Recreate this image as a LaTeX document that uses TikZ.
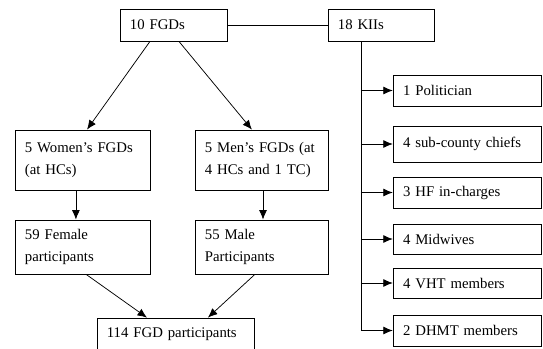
\documentclass[tikz,border=0pt]{standalone}
\usepackage{fontspec}
\setmainfont{Liberation Serif}
\usetikzlibrary{arrows.meta}

\begin{document}
\begin{tikzpicture}[
    box/.style={draw, line width=0.7pt, rectangle, inner xsep=0.33cm, inner ysep=0pt, align=left, font=\fontsize{14}{21}\selectfont},
    arr/.style={line width=0.7pt, -{Latex[length=9pt,width=7.5pt]}}
  ]
    \useasboundingbox (0,0) rectangle (18.1,11.6);
    % left branch
    \node[box, text width=2.907cm, minimum height=1.067cm] (fgd) at (5.783,10.767) {10 FGDs};
    \node[box, text width=3.84cm, minimum height=2cm] (women) at (2.75,6.267) {5 Women's FGDs\\(at HCs)};
    \node[box, text width=3.773cm, minimum height=2cm] (men) at (8.717,6.267) {5 Men's FGDs (at\\4 HCs and 1 TC)};
    \node[box, text width=3.84cm, minimum height=1.8cm] (female) at (2.75,3.367) {59 Female\\participants};
    \node[box, text width=3.773cm, minimum height=1.8cm] (male) at (8.717,3.367) {55 Male\\Participants};
    \node[box, text width=4.573cm, minimum height=1.1cm] (total) at (5.85,0.45) {114 FGD participants};
    \draw [arr] ([xshift=-0.783cm]fgd.south) -- ([xshift=0.15cm]women.north);
    \draw [arr] ([xshift=0.18cm]fgd.south) -- ([xshift=-0.32cm]men.north);
    \draw [arr] ([xshift=-0.22cm]women.south) -- ([xshift=-0.22cm]female.north);
    \draw [arr] ([xshift=0.05cm]men.south) -- ([xshift=0.05cm]male.north);
    \draw [arr] ([xshift=0.12cm]female.south) -- ([xshift=-0.95cm]total.north);
    \draw [arr] ([xshift=-0.22cm]male.south) -- ([xshift=1.08cm]total.north);
    % right branch
    \node[box, text width=2.873cm, minimum height=1.067cm] (kii) at (12.7,10.767) {18 KIIs};
    \draw [line width=0.7pt] (fgd.east) -- (kii.west);
    \node[box, text width=4.29cm, minimum height=1.033cm] (pol) at (15.58,8.583) {1 Politician};
    \node[box, text width=4.29cm, minimum height=1.2cm] (chief) at (15.58,6.8) {4 sub-county chiefs};
    \node[box, text width=4.29cm, minimum height=1.033cm] (hf) at (15.58,5.183) {3 HF in-charges};
    \node[box, text width=4.29cm, minimum height=1cm] (mid) at (15.58,3.633) {4 Midwives};
    \node[box, text width=4.29cm, minimum height=1cm] (vht) at (15.58,2.167) {4 VHT members};
    \node[box, text width=4.29cm, minimum height=1.033cm] (dhmt) at (15.58,0.583) {2 DHMT members};
    \coordinate (trunk) at (12.033,0);
    \draw [line width=0.7pt] (kii.south -| trunk) -- (dhmt.west -| trunk);
    \foreach \n in {pol,chief,hf,mid,vht,dhmt}
      \draw [arr] (\n.west -| trunk) -- (\n.west);
  \end{tikzpicture}
\end{document}
